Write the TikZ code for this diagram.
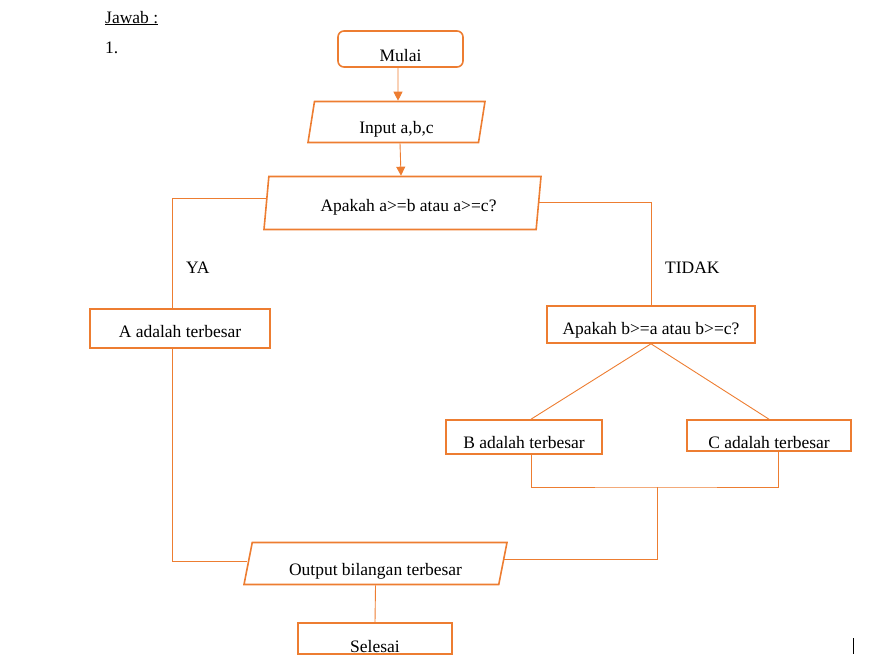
\documentclass[tikz,border=0pt]{standalone}
\usepackage{fontspec}
\setmainfont{Liberation Serif}
\usetikzlibrary{shapes.geometric,arrows.meta}
\definecolor{oranye}{HTML}{ED7D31}
\begin{document}
\begin{tikzpicture}[x=1pt, y=-1pt,
	kotak/.style={draw=oranye, line width=1.6pt, inner xsep=2pt, inner ysep=0pt,
		font=\fontsize{17.5}{21}\selectfont, text depth=2pt},
	jajar/.style={kotak, trapezium, trapezium stretches body,
		trapezium left angle=#1, trapezium right angle=180-#1},
	teks/.style={text height=#1},
	tulisan/.style={anchor=base west, inner sep=0pt, font=\fontsize{17.5}{21}\selectfont},
	garis/.style={draw=oranye, line width=0.9pt},
	panah/.style={garis, -{Triangle[width=9pt,length=9pt]}}]
	\useasboundingbox (0,0) rectangle (889,667);
	
	%Judul
	\node[tulisan] (jawab) at (105,23) {\underline{Jawab :}};
	\node[tulisan] (nomor) at (105,53) {1.};
	
	%Kotak
	\node[kotak, rounded corners=6pt, minimum width=125, minimum height=36, teks=27] (mulai) at (400.5,49) {Mulai};
	\node[jajar=76, minimum width=177, minimum height=41, teks=24] (input) at (396.5,122) {Input a,b,c};
	\node[jajar=77, minimum width=277, minimum height=53, teks=19] (tanyaA) at (402.5,203) {\hspace*{12pt}Apakah a>=b atau a>=c?};
	\node[kotak, minimum width=180, minimum height=39, teks=19] (hasilA) at (180,328.5) {A adalah terbesar};
	\node[kotak, minimum width=208, minimum height=37, teks=21] (tanyaB) at (651,324.5) {Apakah b>=a atau b>=c?};
	\node[kotak, minimum width=156, minimum height=34, teks=24] (hasilB) at (524,437) {B adalah terbesar};
	\node[kotak, minimum width=164, minimum height=31, teks=27] (hasilC) at (769,435.5) {C adalah terbesar};
	\node[jajar=73, minimum width=263, minimum height=42, teks=25] (output) at (375.5,563.5) {Output bilangan terbesar};
	\node[kotak, minimum width=154, minimum height=31, teks=29] (selesai) at (375,638.5) {Selesai};
	
	%Label
	\node[tulisan] (ya) at (186,273) {YA};
	\node[tulisan] (tidak) at (665,273) {TIDAK};
	
	%Garis
	\draw[panah] ([xshift=-2.5pt]mulai.south) -- ([xshift=1.5pt]input.north);
	\draw[panah] ([xshift=3.5pt]input.south) -- ([xshift=-1.5pt]tanyaA.north);
	\draw[garis] ([xshift=1pt,yshift=4.5pt]tanyaA.west) -| ([xshift=-8pt]hasilA.north);
	\draw[garis] ([yshift=1pt]tanyaA.east) -| (tanyaB.north);
	\draw[garis] (tanyaB.south) -- ([xshift=7pt]hasilB.north);
	\draw[garis] (tanyaB.south) -- (hasilC.north);
	\coordinate (gabung) at (657,487);
	\draw[garis] ([xshift=7pt]hasilB.south) |- (gabung) -| ([xshift=9pt]hasilC.south);
	\draw[garis] (gabung) |- ([yshift=4pt]output.east);
	\draw[garis] ([xshift=-8pt]hasilA.south) |- ([yshift=2pt]output.west);
	\draw[garis] (output.south) -- (selesai.north);
	
	%Kursor
	\draw[line width=0.8pt] (853,638) -- (853,654);
\end{tikzpicture}
\end{document}
